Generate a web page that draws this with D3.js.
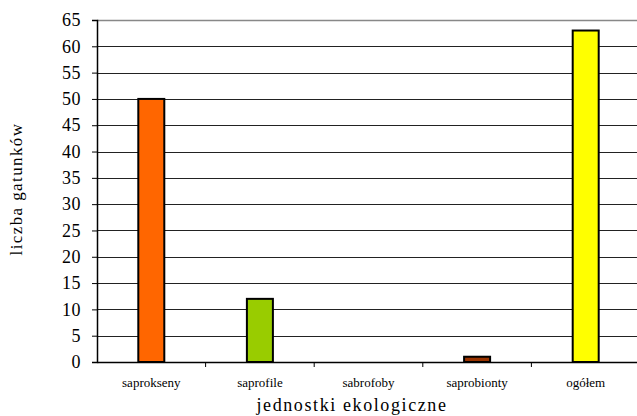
<!DOCTYPE html>
<html><head><meta charset="utf-8">
<script src="https://cdn.jsdelivr.net/npm/d3@7"></script>
<style>body{margin:0;background:#fff}svg{display:block}</style>
</head><body>
<svg id="c" width="637" height="416"></svg>
<script>
const categories = ["saprokseny","saprofile","sabrofoby","saprobionty","ogółem"];
const values = [50, 12, 0, 1, 63];
const colors = ["#FF6600","#99CC00","#FFFFFF","#993300","#FFFF00"];
const yTicks = [0,5,10,15,20,25,30,35,40,45,50,55,60,65];
const yTitle = "liczba gatunków";
const xTitle = "jednostki ekologiczne";

const FF = "'Liberation Serif','Times New Roman',serif";
const svg = d3.select("#c").style("font-family", FF);
const m = {left:97, top:20, right:-3, bottom:54};
const W = 637 - m.left - m.right, H = 416 - m.top - m.bottom;
const g = svg.append("g").attr("transform",`translate(${m.left},${m.top})`);
const x = d3.scaleBand().domain(categories).range([0,W]).paddingInner(0).paddingOuter(0);
const y = d3.scaleLinear().domain([0,65]).range([H,0]);

// gridlines
g.selectAll(".grid").data(yTicks.filter(t=>t>0)).join("line")
  .attr("x1",0).attr("x2",W).attr("y1",d=>Math.round(y(d))+0.5).attr("y2",d=>Math.round(y(d))+0.5)
  .attr("stroke",d=>d===65?"#888":"#222").attr("stroke-width",d=>d===65?1.5:1);

// bars
const bw = 26;
g.selectAll(".bar").data(categories.map((c,i)=>({c,v:values[i],col:colors[i]})).filter(d=>d.v>0)).join("rect")
  .attr("x",d=>x(d.c)+x.bandwidth()/2-bw/2).attr("width",bw)
  .attr("y",d=>y(d.v)).attr("height",d=>H-y(d.v))
  .attr("fill",d=>d.col).attr("stroke","#000").attr("stroke-width",2);

// y axis
const ya = g.append("g").call(d3.axisLeft(y).tickValues(yTicks).tickSize(5).tickPadding(11));
ya.attr("font-family", FF);
ya.select(".domain").attr("stroke","#000").attr("stroke-width",1.5);
ya.selectAll(".tick line").attr("stroke","#000");
ya.selectAll("text").style("font-family",FF).style("font-size","18px").style("letter-spacing","0.5px").attr("fill","#000");

// x axis
const xa = g.append("g").attr("transform",`translate(0,${H})`)
  .call(d3.axisBottom(x).tickSize(0).tickPadding(16));
xa.attr("font-family", FF);
xa.select(".domain").attr("stroke","#000").attr("stroke-width",1.5);
xa.selectAll("text").style("font-family",FF).style("font-size","13px").attr("fill","#000");
xa.selectAll(".sep").data(categories.slice(1)).join("line")
  .attr("x1",d=>x(d)).attr("x2",d=>x(d)).attr("y1",0).attr("y2",5).attr("stroke","#000");

// titles
svg.append("text").attr("transform","translate(22,189) rotate(-90)").attr("text-anchor","middle")
  .style("font-family",FF).style("font-size","17px").style("letter-spacing","1.4px").text(yTitle);
svg.append("text").attr("x",352).attr("y",411).attr("text-anchor","middle")
  .style("font-family",FF).style("font-size","18px").style("letter-spacing","1.6px").text(xTitle);
</script>
</body></html>
